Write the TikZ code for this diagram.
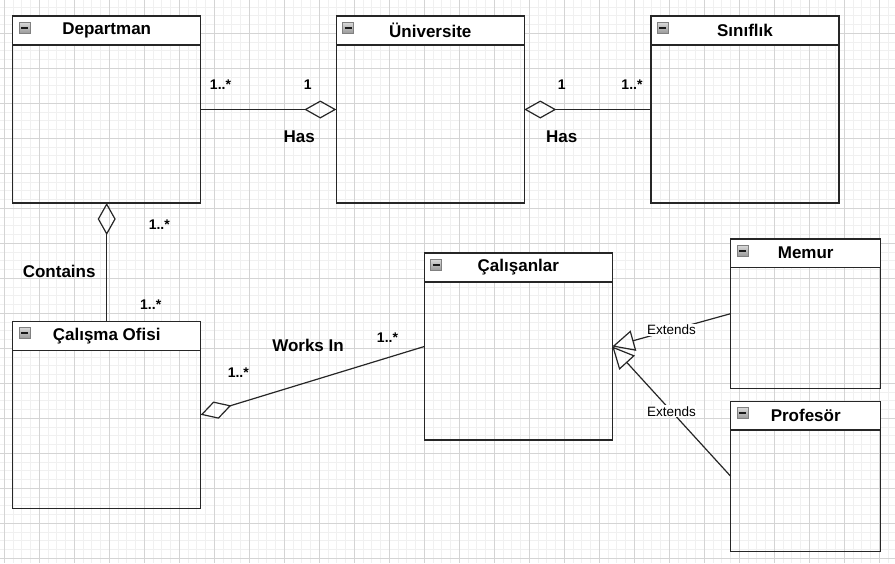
\documentclass[tikz,border=0pt]{standalone}
\usepackage{fontspec}
\setmainfont{Liberation Sans}
\usetikzlibrary{arrows.meta}

\tikzset{
    minorgrid/.style={draw=black!6, line width=0.8pt},
    majorgrid/.style={draw=black!17, line width=0.9pt},
    classbody/.style={draw=black!85, line width=1.2pt, anchor=north west,
        minimum width=188pt, minimum height=187pt, inner sep=0pt, outer sep=0pt},
    classhead/.style={draw=black!85, line width=1.2pt, fill=white, anchor=north,
        minimum width=188pt, minimum height=29pt, inner sep=0pt, outer sep=0pt,
        font=\bfseries\fontsize{17}{20}\selectfont},
    minusicon/.style={draw=black!50, top color=black!15, bottom color=black!40,
        line width=0.8pt, minimum size=11pt, inner sep=0pt,
        path picture={\draw[black!90, line width=1.5pt]
            ([xshift=2pt]path picture bounding box.west) --
            ([xshift=-2pt]path picture bounding box.east);}},
    mult/.style={font=\bfseries\fontsize{14}{16}\selectfont, inner sep=0pt},
    rel/.style={font=\bfseries\fontsize{17}{20}\selectfont, inner sep=0pt},
    has/.style={draw=black!85, line width=1.2pt,
        -{Diamond[open, length=32pt, width=18pt]}},
    extends/.style={draw=black!85, line width=1.2pt,
        -{Triangle[open, length=22pt, width=21pt]}},
    extlabel/.style={fill=white, inner sep=1pt, font=\fontsize{13.5}{16}\selectfont},
}

\begin{document}
\begin{tikzpicture}[x=1pt, y=-1pt]
    \useasboundingbox (0,0) rectangle (895,563);

    % grid
    \foreach \i in {-1,...,102}
        \draw[minorgrid] ({4.3+\i*8.75},0) -- ({4.3+\i*8.75},563);
    \foreach \j in {0,...,65}
        \draw[minorgrid] (0,{-1.7+\j*8.75}) -- (895,{-1.7+\j*8.75});
    \foreach \i in {0,...,25}
        \draw[majorgrid] ({4.3+\i*35},0) -- ({4.3+\i*35},563);
    \foreach \j in {1,...,16}
        \draw[majorgrid] (0,{-1.7+\j*35}) -- (895,{-1.7+\j*35});

    % classes
    \node[classbody] (dep) at (12.7, 16) {};
    \node[classhead] (dephead) at (dep.north) {Departman};
    \node[minusicon] (depicon) at ([xshift=11.8pt, yshift=-11.8pt]dephead.north west) {};

    \node[classbody] (uni) at (336.3, 16) {};
    \node[classhead] (unihead) at (uni.north) {Üniversite};
    \node[minusicon] (uniicon) at ([xshift=11.8pt, yshift=-11.8pt]unihead.north west) {};

    \node[classbody] (sin) at (651, 16) {};
    \node[classhead] (sinhead) at (sin.north) {Sınıflık};
    \node[minusicon] (sinicon) at ([xshift=11.8pt, yshift=-11.8pt]sinhead.north west) {};

    \node[classbody] (ofis) at (12.7, 321.3) {};
    \node[classhead] (ofishead) at (ofis.north) {Çalışma Ofisi};
    \node[minusicon] (ofisicon) at ([xshift=11.8pt, yshift=-11.8pt]ofishead.north west) {};

    \node[classbody] (cal) at (424.3, 253) {};
    \node[classhead] (calhead) at (cal.north) {Çalışanlar};
    \node[minusicon] (calicon) at ([xshift=11.8pt, yshift=-11.8pt]calhead.north west) {};

    \node[classbody, minimum width=150pt, minimum height=149.3pt] (memur) at (730.7, 239) {};
    \node[classhead, minimum width=150pt, minimum height=28.3pt] (memurhead) at (memur.north) {Memur};
    \node[minusicon] (memuricon) at ([xshift=11.8pt, yshift=-11.8pt]memurhead.north west) {};

    \node[classbody, minimum width=150pt, minimum height=150pt] (prof) at (730.7, 401.3) {};
    \node[classhead, minimum width=150pt, minimum height=28.7pt] (profhead) at (prof.north) {Profesör};
    \node[minusicon] (proficon) at ([xshift=11.8pt, yshift=-11.8pt]profhead.north west) {};

    % connectors
    \draw[has] (dep.east) -- (uni.west);
    \draw[has] (sin.west) -- (uni.east);
    \draw[has] (ofis.north) -- (dep.south);
    \draw[has] (cal.west) -- (ofis.east);
    \draw[extends] (memur.west) -- node[extlabel] (ext1) {Extends} (cal.east);
    \draw[extends] (prof.west) -- node[extlabel] (ext2) {Extends} (cal.east);

    % labels
    \node[mult] (m1) at (220.5, 85) {1..*};
    \node[mult] (m2) at (307.7, 85) {1};
    \node[rel] (has1) at (299.2, 136.7) {Has};
    \node[mult] (m3) at (561.7, 85) {1};
    \node[rel] (has2) at (561.7, 137) {Has};
    \node[mult] (m4) at (632, 85) {1..*};
    \node[mult] (m5) at (159.3, 224.5) {1..*};
    \node[rel] (contains) at (59.2, 271) {Contains};
    \node[mult] (m6) at (150.7, 305) {1..*};
    \node[rel] (works) at (308, 345) {Works In};
    \node[mult] (m7) at (387.5, 337.5) {1..*};
    \node[mult] (m8) at (238.3, 372.5) {1..*};

\end{tikzpicture}
\end{document}
